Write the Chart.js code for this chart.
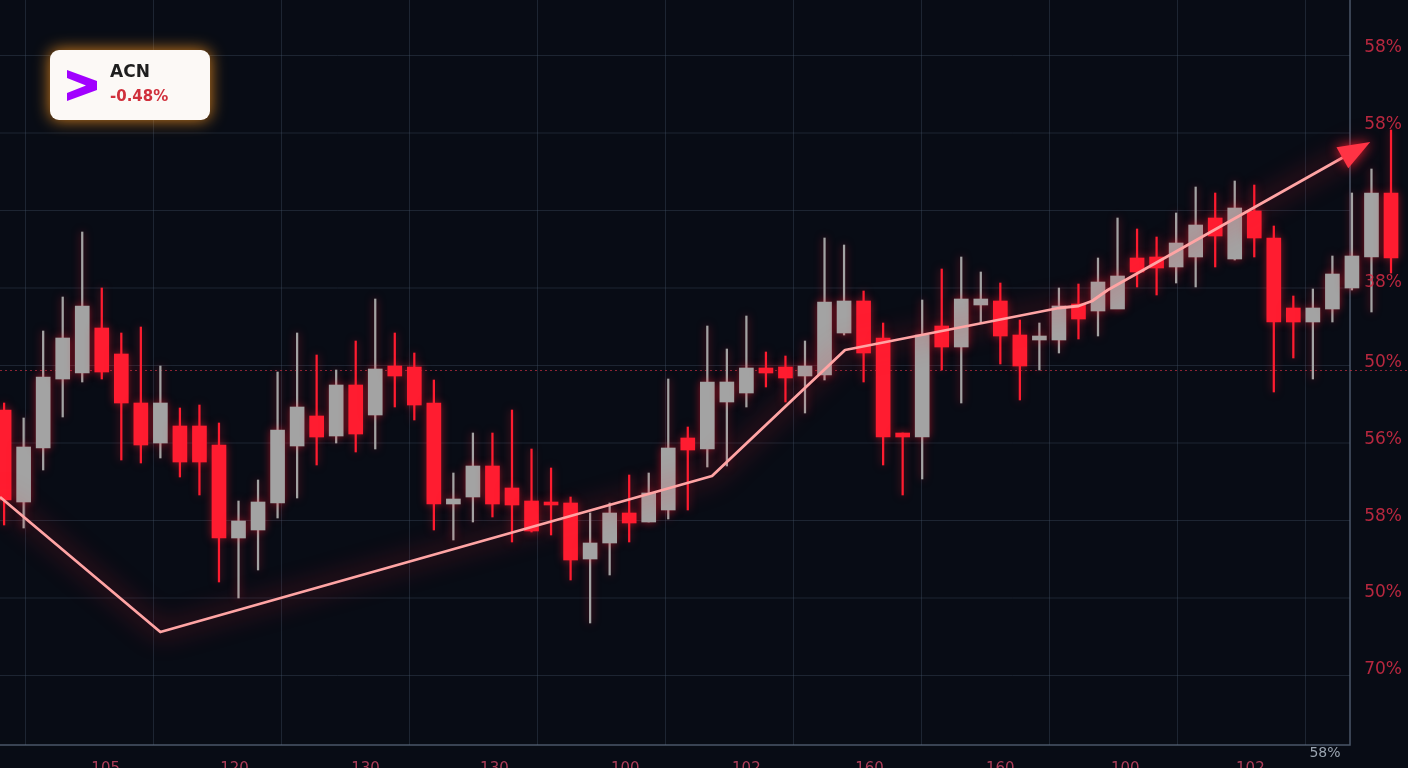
<!DOCTYPE html>
<html lang="en">
<head>
  <meta charset="UTF-8">
  <title>ACN Candles</title>
  <style>
    html, body { margin: 0; padding: 0; background: #080c15; overflow: hidden; }
    #wrap { width: 1408px; height: 768px; }
  </style>
</head>
<body>
  <div id="wrap"><canvas id="chart" width="1408" height="768"></canvas></div>
  <script src="https://cdn.jsdelivr.net/npm/chart.js"></script>
  <script>
    // candle values (screen-down units)
    const opens  = [410,502,448,379,373,328,354,403,443,426,426,445,538,530,503,446,416,436,385,415,366,367,403,504,497,466,488,501,502,503,559,543,513,522,510,438,449,402,393,368,367,376,375,333,301,338,433,437,326,347,305,301,335,340,340,304,311,309,258,257,267,257,218,259,211,238,308,322,309,288,257,193];
    const closes = [500,447,377,338,306,372,403,445,403,462,462,538,521,502,430,407,437,385,434,369,376,405,504,499,466,504,505,531,505,560,543,513,523,493,448,450,382,382,368,373,378,366,302,301,353,437,437,335,347,299,299,336,366,336,306,319,282,276,272,268,243,225,236,208,238,322,322,308,274,256,193,258];
    const highs  = [403,418,331,297,232,288,333,327,366,408,405,423,501,480,372,333,355,370,341,299,333,353,380,473,433,433,410,449,468,497,513,503,475,473,379,427,326,349,316,352,356,341,238,245,291,323,433,300,269,257,272,283,320,323,288,284,258,218,229,237,213,187,193,181,185,226,296,289,256,193,169,130];
    const lows   = [525,528,470,417,382,379,460,463,458,477,495,582,598,570,518,498,465,443,452,449,407,420,530,540,522,517,542,532,535,580,623,575,542,522,519,510,467,466,407,387,402,413,380,335,382,465,495,479,370,403,323,364,400,370,353,339,336,308,287,295,283,287,267,260,257,392,358,379,322,290,312,273];

    const trendX = [-0.21, 8.0, 36.24, 43.05, 54.0, 55.0, 55.7, 56.5, 69.67];
    const trendY = [497, 632, 476, 350, 308, 306, 301, 290, 145];

    const yTicks  = [48, 125, 205, 283, 363, 440, 517, 593, 670];
    const yLabels = ['58%', '58%', '', '38%', '50%', '56%', '58%', '50%', '70%'];
    const xTicks  = [5.2, 11.8, 18.5, 25.1, 31.8, 38.0, 44.3, 51.0, 57.4, 63.8];
    const xLabels = ['105', '120', '130', '130', '100', '102', '160', '160', '100', '102'];

    const RED = '#ff1c30';
    const GREY = '#a3a3a3';
    const isRed = opens.map((o, i) => closes[i] > o);

    const bodies = opens.map((o, i) => ({ x: i, y: [o, closes[i]] }));
    const wicks = highs.map((h, i) => ({ x: i, y: [h, lows[i]] }));
    const colours = isRed.map(r => r ? RED : GREY);

    const decor = {
      id: 'decor',
      beforeDraw(chart) {
        const c = chart.ctx;
        c.save();
        c.fillStyle = '#080c15';
        c.fillRect(0, 0, chart.width, chart.height);
        // grid limited to the framed area
        c.strokeStyle = 'rgba(70,85,105,0.35)';
        c.lineWidth = 1;
        for (let x = 25; x < 1350; x += 128) {
          c.beginPath(); c.moveTo(x + 0.5, 0); c.lineTo(x + 0.5, 745); c.stroke();
        }
        for (let y = 55; y < 745; y += 77.5) {
          if (Math.abs(y - 370) < 5) continue;
          c.beginPath(); c.moveTo(0, y + 0.5); c.lineTo(1350, y + 0.5); c.stroke();
        }
        c.strokeStyle = 'rgba(90,105,125,0.8)';
        c.lineWidth = 1.5;
        c.beginPath(); c.moveTo(1350, 0); c.lineTo(1350, 745); c.lineTo(0, 745); c.stroke();
        c.strokeStyle = 'rgba(210,50,70,0.65)';
        c.setLineDash([2, 3]);
        c.lineWidth = 1;
        c.beginPath(); c.moveTo(0, 370.5); c.lineTo(1408, 370.5); c.stroke();
        c.restore();
      },
      beforeDatasetDraw(chart, args) {
        const c = chart.ctx;
        c.save();
        if (args.index === 2) { c.shadowColor = 'rgba(255,30,50,1)'; c.shadowBlur = 26; }
        else { c.shadowColor = 'rgba(255,30,50,0.5)'; c.shadowBlur = 8; }
      },
      afterDatasetDraw(chart, args) {
        const c = chart.ctx;
        c.restore();
        if (args.index === 2) {
          // arrow head on the trend line
          const pts = args.meta.data;
          const a = pts[pts.length - 2], b = pts[pts.length - 1];
          const ang = Math.atan2(b.y - a.y, b.x - a.x);
          c.save();
          c.translate(b.x, b.y); c.rotate(ang);
          c.shadowColor = 'rgba(255,30,50,0.9)'; c.shadowBlur = 12;
          c.fillStyle = '#ff3344';
          c.beginPath(); c.moveTo(6, 0); c.lineTo(-26, -12); c.lineTo(-26, 12); c.closePath(); c.fill();
          c.restore();
        }
      },
      afterDraw(chart) {
        const c = chart.ctx;
        const xs = chart.scales.x, ys = chart.scales.y;
        c.save();
        c.font = '15px "DejaVu Sans"';
        c.fillStyle = 'rgba(200,70,100,0.85)';
        c.textAlign = 'center';
        c.textBaseline = 'top';
        xTicks.forEach((v, i) => c.fillText(xLabels[i], xs.getPixelForValue(v), 762));
        c.fillStyle = '#9aa4b0';
        c.font = '14px "DejaVu Sans"';
        c.fillText('58%', 1325, 746);
        // right-hand percentage labels
        c.font = '17px "DejaVu Sans"';
        c.fillStyle = 'rgba(215,45,70,0.85)';
        c.textAlign = 'right'; c.textBaseline = 'middle';
        yTicks.forEach((v, i) => c.fillText(yLabels[i], 1402, ys.getPixelForValue(v)));
        // ticker badge
        c.shadowColor = 'rgba(255,150,30,0.85)';
        c.shadowBlur = 16;
        c.fillStyle = '#fcf9f6';
        c.beginPath(); c.roundRect(50, 50, 160, 70, 9); c.fill();
        c.shadowBlur = 0;
        c.fillStyle = '#a100ff';
        c.beginPath();
        c.moveTo(67, 70); c.lineTo(97, 81); c.lineTo(97, 90); c.lineTo(67, 101);
        c.lineTo(67, 93); c.lineTo(86, 85.5); c.lineTo(67, 78); c.closePath(); c.fill();
        c.textAlign = 'left'; c.textBaseline = 'middle';
        c.fillStyle = '#1e1e1e';
        c.font = 'bold 17px "DejaVu Sans"';
        c.fillText('ACN', 110, 73);
        c.fillStyle = '#d0303c';
        c.font = 'bold 15px "DejaVu Sans"';
        c.fillText('-0.48%', 110, 97);
        c.restore();
      }
    };

    new Chart(document.getElementById('chart'), {
      data: {
        datasets: [
          { type: 'bar', data: wicks, backgroundColor: colours, barThickness: 1.6, grouped: false, order: 3 },
          { type: 'bar', data: bodies, backgroundColor: colours, barThickness: 14, grouped: false, order: 2 },
          { type: 'line', data: trendX.map((x, i) => ({ x, y: trendY[i] })), borderColor: '#ffa4a4',
            borderWidth: 2.8, pointRadius: 0, tension: 0, borderJoinStyle: 'round', order: 1 }
        ]
      },
      plugins: [decor],
      options: {
        responsive: false,
        animation: false,
        events: [],
        layout: { padding: 0 },
        plugins: { legend: { display: false }, tooltip: { enabled: false } },
        scales: {
          x: { type: 'linear', min: -0.21, max: 71.87, offset: false, display: false },
          y: { reverse: true, min: 0, max: 768, display: false }
        }
      }
    });
  </script>
</body>
</html>
